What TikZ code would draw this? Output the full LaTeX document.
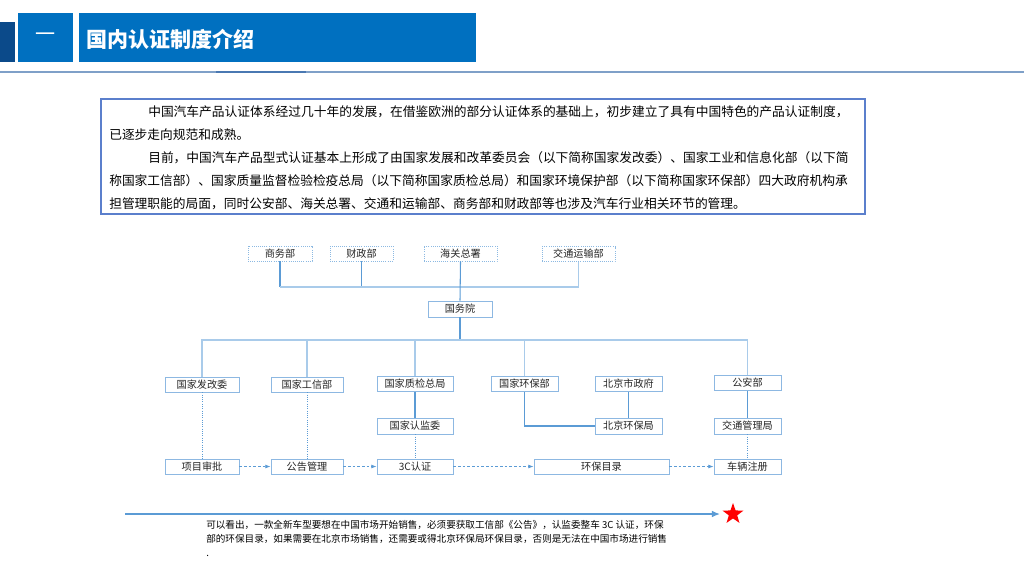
\documentclass[tikz,border=0pt]{standalone}
\usepackage{fontspec}
\setmainfont{Noto Sans CJK SC}
\usetikzlibrary{calc,arrows.meta,positioning,shapes.geometric}
\newlength{\pxu}\setlength{\pxu}{0.75pt}
\definecolor{titleblue}{HTML}{0070C0}
\definecolor{darkstrip}{HTML}{0B4A8A}
\definecolor{rulegray}{HTML}{7FA0C8}
\definecolor{ruledark}{HTML}{4A78B2}
\definecolor{framblue}{HTML}{5B7FCC}
\definecolor{boxblue}{HTML}{8DB8E2}
\definecolor{lineblue}{HTML}{5B9BD5}
\definecolor{buslight}{HTML}{A9CBEA}

\begin{document}
\begin{tikzpicture}[x=0.75pt,y=-0.75pt,
  orgbox/.style={draw=boxblue,line width=0.6pt,fill=white,inner sep=0pt,
    minimum height=15\pxu,text=black!85,font=\fontsize{7.6}{9}\selectfont},
  outerbox/.style={orgbox,draw=lineblue!70,densely dotted},
  link/.style={draw=lineblue,line width=0.8pt},
  bus/.style={draw=buslight,line width=0.9pt},
  guide/.style={draw=lineblue,densely dotted,line width=0.7pt},
  flow/.style={draw=lineblue,dash pattern=on 2pt off 1.5pt,line width=0.6pt,
    -{Latex[length=4pt,width=3pt]}}]
  \useasboundingbox (0,0) rectangle (1024,576);
  % header
  \fill[darkstrip] (0,22) rectangle (15,62);
  \node (secnum) [fill=titleblue,minimum width=55\pxu,minimum height=49\pxu,
    text=white,font=\fontsize{15}{16}\selectfont] at (45.5,37.5) {一};
  \fill[titleblue] (79,13) rectangle (476,62);
  \node (title) [anchor=west,inner sep=0pt,text=white,
    font=\fontsize{15.75}{17}\selectfont\bfseries] at (86,39) {国内认证制度介绍};
  \draw[rulegray,line width=1pt] (0,72) -- (1024,72);
  \draw[ruledark,line width=1pt] (216,72) -- (306,72);
  % intro paragraph
  \draw[framblue,line width=0.8pt] (101,99) rectangle (865,214);
  \node (intro) [anchor=north west,inner sep=0pt,align=left,
    font=\fontsize{9.55}{17.25}\selectfont] at (109,105)
    {\hspace*{39\pxu}中国汽车产品认证体系经过几十年的发展，在借鉴欧洲的部分认证体系的基础上，初步建立了具有中国特色的产品认证制度，\\
     已逐步走向规范和成熟。\\
     \hspace*{39\pxu}目前，中国汽车产品型式认证基本上形成了由国家发展和改革委员会（以下简称国家发改委）、国家工业和信息化部（以下简\\
     称国家工信部）、国家质量监督检验检疫总局（以下简称国家质检总局）和国家环境保护部（以下简称国家环保部）四大政府机构承\\
     担管理职能的局面，同时公安部、海关总署、交通和运输部、商务部和财政部等也涉及汽车行业相关环节的管理。};
  % top row
  \node (shangwu) [outerbox,minimum width=64\pxu] at (280,253.5) {商务部};
  \node (caizheng) [outerbox,minimum width=63\pxu] at (361.5,253.5) {财政部};
  \node (haiguan) [outerbox,minimum width=73\pxu] at (460.5,253.5) {海关总署};
  \node (jiaotong) [outerbox,minimum width=73\pxu] at (578.5,254) {交通运输部};
  \node (guowuyuan) [orgbox,minimum width=64\pxu,minimum height=16\pxu] at (460,309) {国务院};
  \coordinate (topbus) at (0,287);
  \draw[link] (shangwu.south) -- (shangwu.south |- topbus);
  \draw[link] (caizheng.south) -- (caizheng.south |- topbus);
  \draw[bus] (shangwu.south |- topbus) -| (jiaotong.south);
  \draw[link] (haiguan.south) -- (guowuyuan.north);
  % ministries
  \node (fagaiwei) [orgbox,minimum width=74\pxu] at (202,384.5) {国家发改委};
  \node (gongxinbu) [orgbox,minimum width=72\pxu] at (307,384.5) {国家工信部};
  \node (zhijian) [orgbox,minimum width=76\pxu] at (415,384) {国家质检总局};
  \node (huanbaobu) [orgbox,minimum width=67\pxu] at (524.5,384) {国家环保部};
  \node (bjzhengfu) [orgbox,minimum width=67\pxu] at (628.5,384) {北京市政府};
  \node (gonganbu) [orgbox,minimum width=67\pxu] at (747.5,383) {公安部};
  \coordinate (midbus) at (0,340);
  \draw[link] (guowuyuan.south) -- (guowuyuan.south |- midbus);
  \draw[bus] (fagaiwei.north) |- (midbus -| gonganbu.north) -- (gonganbu.north);
  \foreach \m in {gongxinbu,zhijian,huanbaobu}
    \draw[bus] (\m.north) -- (\m.north |- midbus);
  % second level
  \node (renjianwei) [orgbox,minimum width=76\pxu,minimum height=16\pxu] at (415,426) {国家认监委};
  \node (bjhuanbao) [orgbox,minimum width=67\pxu,minimum height=16\pxu] at (628.5,426) {北京环保局};
  \node (jiaoguan) [orgbox,minimum width=67\pxu,minimum height=16\pxu] at (747.5,426) {交通管理局};
  \draw[link] (zhijian.south) -- (renjianwei.north);
  \draw[link] (bjzhengfu.south) -- (bjhuanbao.north);
  \draw[link] (gonganbu.south) -- (jiaoguan.north);
  \draw[link] (huanbaobu.south) |- (bjhuanbao.west);
  % procedure row
  \node (xiangmu) [orgbox,minimum width=74\pxu] at (202,466.5) {项目审批};
  \node (gonggao) [orgbox,minimum width=72\pxu] at (307,466.5) {公告管理};
  \node (ccc) [orgbox,minimum width=76\pxu] at (415,466.5) {3C认证};
  \node (mulu) [orgbox,minimum width=135\pxu] at (601.5,466.5) {环保目录};
  \node (cheliang) [orgbox,minimum width=67\pxu] at (747.5,466.5) {车辆注册};
  \draw[guide] (fagaiwei.south) -- (xiangmu.north);
  \draw[guide] (gongxinbu.south) -- (gonggao.north);
  \draw[guide] (renjianwei.south) -- (ccc.north);
  \draw[guide] ($(huanbaobu.south)+(25,0)$) -- ($(huanbaobu.south)+(25,0)$ |- mulu.north);
  \draw[guide] ($(bjhuanbao.south)+(-25,0)$) -- ($(bjhuanbao.south)+(-25,0)$ |- mulu.north);
  \draw[guide] (jiaoguan.south) -- (cheliang.north);
  \draw[flow] (xiangmu) -- (gonggao);
  \draw[flow] (gonggao) -- (ccc);
  \draw[flow] (ccc) -- (mulu);
  \draw[flow] (mulu) -- (cheliang);
  % timeline and note
  \coordinate (tstart) at (125,514);
  \node (goal) [star,star points=5,star point ratio=2.5,fill=red,inner sep=0pt,
    minimum size=22\pxu] at (733,514) {};
  \draw[lineblue,line width=0.9pt,-{Latex[length=6pt,width=5pt]},shorten >=5pt] (tstart) -- (goal);
  \node (note) [anchor=north west,inner sep=0pt,align=left,
    font=\fontsize{7.2}{10.2}\selectfont] at (206,520.5)
    {可以看出，一款全新车型要想在中国市场开始销售，必须要获取工信部《公告》，认监委整车 3C 认证，环保\\
     部的环保目录，如果需要在北京市场销售，还需要或得北京环保局环保目录，否则是无法在中国市场进行销售\\
     .};
\end{tikzpicture}
\end{document}
